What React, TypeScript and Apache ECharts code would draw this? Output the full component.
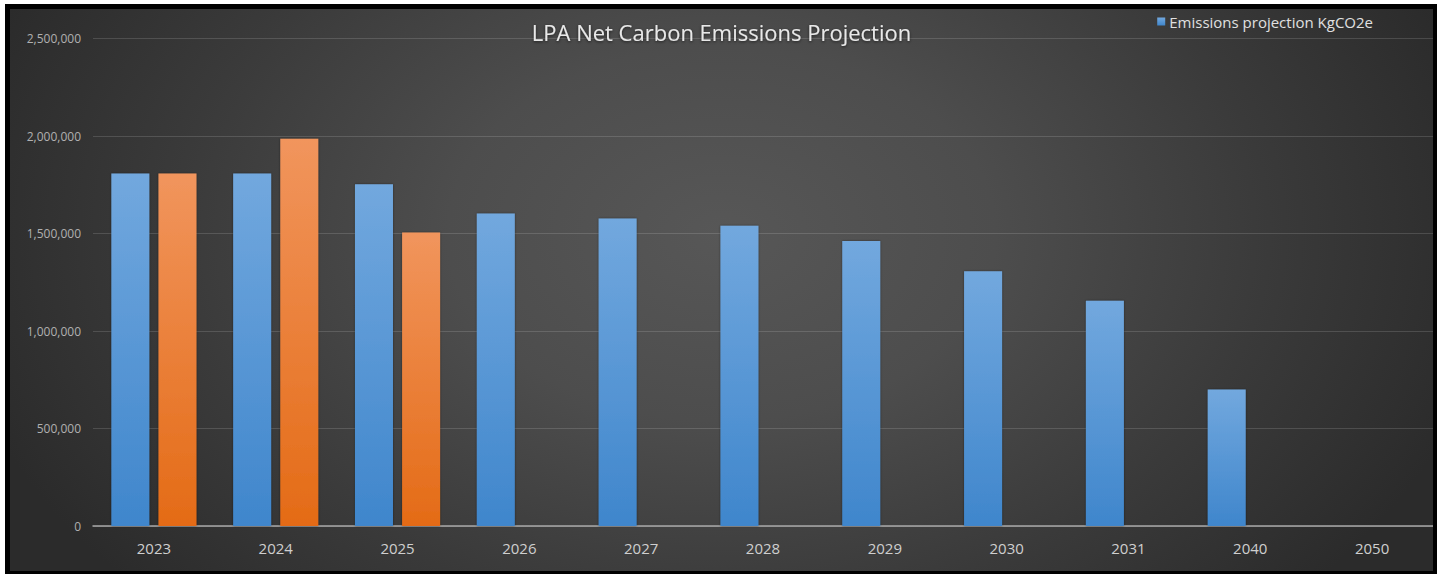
import React, { useEffect, useRef } from "react";
import * as echarts from "echarts";

const years = ["2023", "2024", "2025", "2026", "2027", "2028", "2029", "2030", "2031", "2040", "2050"];
const projection = [1808000, 1808000, 1752000, 1603000, 1577000, 1540000, 1462000, 1306000, 1155000, 700000, 0];
const actual = [1808000, 1986000, 1505000, null, null, null, null, null, null, null, null];
const projectionName = "Emissions projection KgCO2e";
const actualName = "Actual emissions KgCO2e";

export default function App() {
  const ref = useRef<HTMLDivElement>(null);
  useEffect(() => {
    if (!ref.current) return;
    const chart = echarts.init(ref.current, undefined, { renderer: "svg" });
    const font = "'Open Sans', 'Liberation Sans', sans-serif";
    chart.setOption({
      animation: false,
      backgroundColor: "transparent",
      title: {
        text: "LPA Net Carbon Emissions Projection",
        left: "center",
        top: 7,
        textStyle: {
          color: "#e8e8e8",
          fontFamily: font,
          fontSize: 22,
          fontWeight: "normal",
          textShadowColor: "rgba(0,0,0,0.6)",
          textShadowBlur: 3,
          textShadowOffsetY: 1,
        },
      },
      legend: {
        data: [projectionName],
        right: 55,
        top: 0,
        icon: "rect",
        itemWidth: 8,
        itemHeight: 8,
        itemGap: 4,
        textStyle: { color: "#e0e0e0", fontFamily: font, fontSize: 15, padding: [0, 0, 0, -1] },
      },
      grid: { left: 83, right: 0, top: 29.5, bottom: 45 },
      xAxis: {
        type: "category",
        data: years,
        axisLine: { lineStyle: { color: "#a8a8a8", width: 1.5 } },
        axisTick: { show: false },
        axisLabel: { color: "#cfcfcf", fontFamily: font, fontSize: 15, margin: 14 },
      },
      yAxis: {
        type: "value",
        min: 0,
        max: 2500000,
        interval: 500000,
        axisLine: { show: false },
        axisTick: { show: false },
        axisLabel: {
          color: "#b0b0b0",
          fontFamily: font,
          fontSize: 12,
          margin: 12,
          formatter: (v: number) => v.toLocaleString("en-US"),
        },
        splitLine: { lineStyle: { color: "rgba(255,255,255,0.14)", width: 1 } },
      },
      series: [
        {
          name: projectionName,
          type: "bar",
          data: projection,
          barWidth: 38,
          barGap: "24%",
          itemStyle: {
            color: new echarts.graphic.LinearGradient(0, 0, 0, 1, [
              { offset: 0, color: "#72a8de" },
              { offset: 1, color: "#3f86cc" },
            ]),
            shadowColor: "rgba(0,0,0,0.45)",
            shadowBlur: 2,
          },
        },
        {
          name: actualName,
          type: "bar",
          data: actual,
          barWidth: 38,
          itemStyle: {
            color: new echarts.graphic.LinearGradient(0, 0, 0, 1, [
              { offset: 0, color: "#f1955d" },
              { offset: 1, color: "#e46b16" },
            ]),
            shadowColor: "rgba(0,0,0,0.45)",
            shadowBlur: 2,
          },
        },
      ],
    });
    return () => chart.dispose();
  }, []);

  return (
    <div style={{ position: "absolute", left: 0, top: 0, width: 1442, height: 574, background: "#ffffff", overflow: "hidden" }}>
      <div style={{ position: "absolute", left: 5, top: 4, width: 1432, height: 570, background: "#000000" }} />
      <div
        ref={ref}
        style={{
          position: "absolute",
          left: 10,
          top: 9,
          width: 1423,
          height: 562,
          background:
            "radial-gradient(ellipse 55% 95% at 50% 40%, #575757 0%, #4d4d4d 35%, #3a3a3a 70%, #2b2b2b 100%)",
        }}
      />
    </div>
  );
}
